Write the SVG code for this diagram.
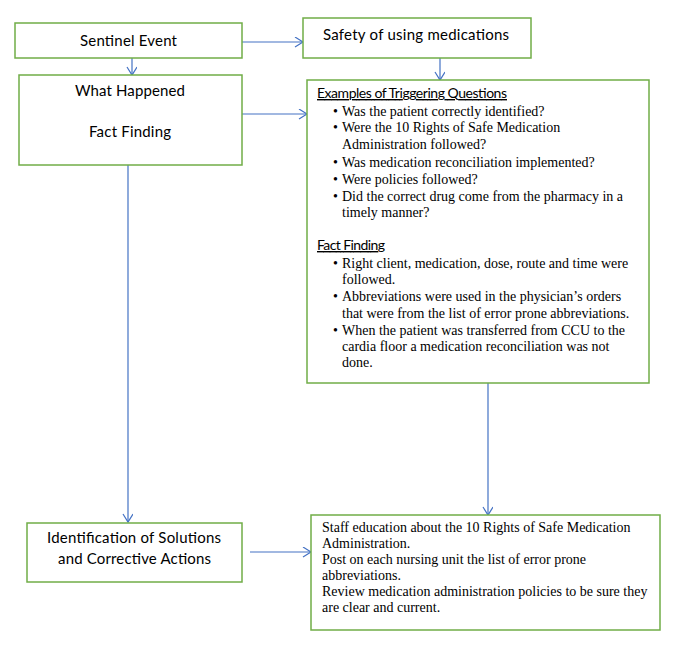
<svg xmlns="http://www.w3.org/2000/svg" width="686" height="657" viewBox="0 0 686 657">
<defs>
<style>
.box{fill:#fff;stroke:#70AD47;stroke-width:1.5}
.t{font-family:Lato,"Open Sans","Liberation Sans",sans-serif;font-size:15px;fill:#000}
.h{font-family:Lato,"Open Sans","Liberation Sans",sans-serif;font-size:14px;fill:#000;text-decoration:underline}
.b{font-family:"Liberation Serif","Times New Roman",serif;font-size:14px;fill:#000}
.c{stroke:#4472C4;stroke-width:1.2;fill:none;marker-end:url(#arr)}
</style>
<marker id="arr" markerUnits="userSpaceOnUse" markerWidth="12" markerHeight="12" refX="9" refY="5" orient="auto">
<path d="M1,0 L9,5 L1,10" fill="none" stroke="#4472C4" stroke-width="1.2"/>
</marker>
</defs>
<rect width="686" height="657" fill="#fff"/>
<g id="connectors">
<line class="c" x1="242" y1="42" x2="303" y2="42"/>
<line class="c" x1="132" y1="58" x2="132" y2="75"/>
<line class="c" x1="440" y1="58" x2="440" y2="80"/>
<line class="c" x1="242" y1="114" x2="307" y2="114"/>
<line class="c" x1="128" y1="165" x2="128" y2="522"/>
<line class="c" x1="488" y1="383" x2="488" y2="515"/>
<line class="c" x1="250" y1="552" x2="311" y2="552"/>
</g>
<g id="sentinel">
<rect class="box" x="15" y="23" width="227" height="35"/>
<text class="t" x="128.5" y="46" text-anchor="middle" textLength="97">Sentinel Event</text>
</g>
<g id="safety">
<rect class="box" x="303" y="18" width="228" height="40"/>
<text class="t" x="416" y="40" text-anchor="middle" textLength="186">Safety of using medications</text>
</g>
<g id="what-happened">
<rect class="box" x="19" y="75" width="223" height="90"/>
<text class="t" x="130" y="96" text-anchor="middle" textLength="110">What Happened</text>
<text class="t" x="130" y="137" text-anchor="middle" textLength="82">Fact Finding</text>
</g>
<g id="questions">
<rect class="box" x="307" y="80" width="342" height="303"/>
<text class="h" x="317" y="98" textLength="190">Examples of Triggering Questions</text>
<g class="b">
<text x="333" y="116">•</text><text x="342" y="116">Was the patient correctly identified?</text>
<text x="333" y="132">•</text><text x="342" y="132">Were the 10 Rights of Safe Medication</text>
<text x="342" y="149">Administration followed?</text>
<text x="333" y="167">•</text><text x="342" y="167">Was medication reconciliation implemented?</text>
<text x="333" y="184">•</text><text x="342" y="184">Were policies followed?</text>
<text x="333" y="201">•</text><text x="342" y="201">Did the correct drug come from the pharmacy in a</text>
<text x="342" y="217">timely manner?</text>
</g>
<text class="h" x="317" y="250" textLength="68">Fact Finding</text>
<g class="b">
<text x="333" y="268">•</text><text x="342" y="268">Right client, medication, dose, route and time were</text>
<text x="342" y="284">followed.</text>
<text x="333" y="301">•</text><text x="342" y="301">Abbreviations were used in the physician’s orders</text>
<text x="342" y="318">that were from the list of error prone abbreviations.</text>
<text x="333" y="335">•</text><text x="342" y="335">When the patient was transferred from CCU to the</text>
<text x="342" y="351">cardia floor a medication reconciliation was not</text>
<text x="342" y="367">done.</text>
</g>
</g>
<g id="identification">
<rect class="box" x="27" y="523" width="215" height="59"/>
<text class="t" x="134" y="543" text-anchor="middle" textLength="174">Identification of Solutions</text>
<text class="t" x="134.5" y="564" text-anchor="middle" textLength="153">and Corrective Actions</text>
</g>
<g id="actions">
<rect class="box" x="311" y="515" width="349" height="115"/>
<g class="b">
<text x="322" y="532">Staff education about the 10 Rights of Safe Medication</text>
<text x="322" y="548">Administration.</text>
<text x="322" y="564">Post on each nursing unit the list of error prone</text>
<text x="322" y="580">abbreviations.</text>
<text x="322" y="596">Review medication administration policies to be sure they</text>
<text x="322" y="612">are clear and current.</text>
</g>
</g>
</svg>
